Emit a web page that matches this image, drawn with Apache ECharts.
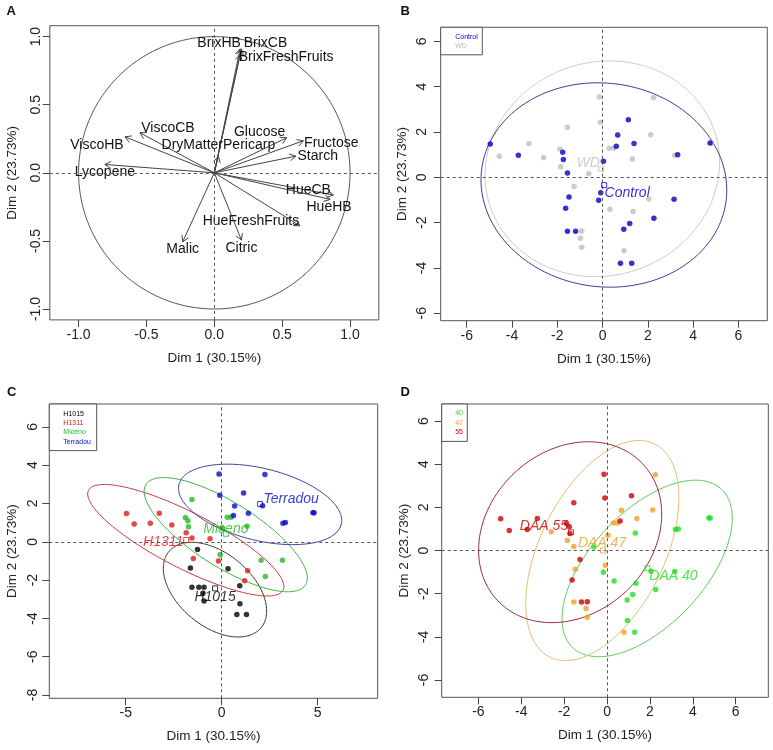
<!DOCTYPE html>
<html><head><meta charset="utf-8">
<script src="https://cdn.jsdelivr.net/npm/echarts@6/dist/echarts.min.js"></script>
<style>html,body{margin:0;padding:0;background:#fff}#c{width:773px;height:750px}</style>
</head><body><div id="c"></div>
<script>
// ---------- Panel A: variables factor map ----------
const varNames = ['BrixHB','BrixCB','BrixFreshFruits','ViscoCB','ViscoHB','Lycopene','DryMatterPericarp','Glucose','Fructose','Starch','HueCB','HueHB','HueFreshFruits','Citric','Malic'];
const varDim1 = [0.19, 0.20, 0.19, -0.548, -0.658, -0.806, 0.03, 0.533, 0.656, 0.60, 0.877, 0.853, 0.631, 0.20, -0.233];
const varDim2 = [0.91, 0.91, 0.87, 0.294, 0.264, 0.061, 0.12, 0.257, 0.235, 0.122, -0.163, -0.195, -0.389, -0.494, -0.507];

// ---------- Individuals (panels B, C, D) ----------
const indDim1 = [-4.96,-3.72,-1.76,-1.73,-1.55,-1.48,-1.63,-1.55,-1.19,0.04,-0.08,-0.17,0.67,0.61,1.14,1.39,0.94,1.20,2.27,0.79,1.29,3.16,3.32,4.75,4.81,
                 -4.56,-3.25,-2.60,-1.89,-1.85,-1.55,-1.26,-0.61,-0.14,-0.10,0.29,0.49,1.32,2.13,2.25,3.19,2.05,0.33,1.35,-0.92,-0.98,-0.92,0.95];
const indDim2 = [1.47,0.97,1.10,0.79,0.19,-0.87,-1.37,-2.38,-2.38,0.71,-0.68,-1.01,1.87,1.37,2.54,1.49,-2.29,-2.04,-1.81,-3.79,-3.79,-0.97,1.00,1.51,1.51,
                 0.93,1.49,0.87,1.25,0.47,2.21,-0.41,0.16,3.54,2.43,1.28,1.28,0.81,1.88,3.51,0.97,-0.96,-1.41,-1.51,-2.37,-2.69,-3.09,-3.24];
const indTreatment = ['Control','Control','Control','Control','Control','Control','Control','Control','Control','Control','Control','Control','Control','Control','Control','Control','Control','Control','Control','Control','Control','Control','Control','Control','WD',
                      'WD','WD','WD','WD','WD','WD','WD','WD','WD','WD','WD','WD','WD','WD','WD','WD','WD','WD','WD','WD','WD','WD','WD'];
const indGenotype = ['H1311','H1311','Miceno','Miceno','H1311','H1311','H1015','H1015','H1015','Miceno','Miceno','H1311','Terradou','Terradou','Terradou','Terradou','H1015','H1311','Miceno','H1015','H1015','Miceno','Terradou','Terradou','Terradou',
                     'H1311','H1311','H1311','Miceno','H1311','Miceno','H1015','H1311','Terradou','Terradou','Miceno','Miceno','Miceno','Terradou','Terradou','Terradou','Miceno','H1015','H1311','H1015','H1015','H1015','H1015'];
const indDAA = ['55','55','55','55','47','47','55','47','55','47','47','40','47','55','55','47','40','40','40','47','40','40','40','40','40',
                '55','55','47','55','47','55','55','40','55','55','47','47','40','47','47','40','40','40','40','55','47','47','40'];

// ---------- Groups and confidence ellipses ----------
const treatments = ['Control','WD'];
const trtEllCx = [0.06,-0.01], trtEllCy = [-0.34,0.375], trtEllHx = [5.43,5.18], trtEllHy = [4.51,4.76], trtEllR = [-0.05,0.06];
const genotypes = ['H1015','H1311','Miceno','Terradou'];
const genEllCx = [-0.35,-1.87,0.21,2.0], genEllCy = [-2.5,0.08,0.37,1.95], genEllHx = [2.69,5.11,4.25,4.25], genEllHy = [2.47,2.91,2.98,2.1], genEllR = [-0.45,-0.83,-0.76,-0.4];
const daaLevels = ['40','47','55'];
const daaEllCx = [1.87,-0.22,-1.72], daaEllCy = [-0.83,0.0,0.85], daaEllHx = [3.97,3.57,4.27], daaEllHy = [4.09,5.1,4.19], daaEllR = [0.57,0.48,0.2];

// tick values
const ticksA = [-1,-0.5,0,0.5,1];
const ticksBx = [-6,-4,-2,0,2,4,6], ticksBy = [-6,-4,-2,0,2,4,6];
const ticksCx = [-5,0,5], ticksCy = [-8,-6,-4,-2,0,2,4,6];
const ticksDx = [-6,-4,-2,0,2,4,6], ticksDy = [-6,-4,-2,0,2,4,6];
const xTitle = 'Dim 1 (30.15%)', yTitle = 'Dim 2 (23.73%)';

// ---------- styles / layout ----------
const FONT = "'Liberation Sans', Arial, Helvetica, sans-serif";
// label offsets (px) for panel A variable names
const varLabelOffset = [[-21,-6],[24,-6],[46,3],[28,-5],[-28,8],[0,8],[0,-11],[-27,-6],[28,2],[22,0],[-25,-5],[-1,8],[-49,-5],[0,8],[0,7]];
const trtColor = ['#0000C8','#BEBEBE'], trtEllColor = ['#3C3C96','#CDCDCD'], trtLabOff = [[23,8],[-13,-6]];
const genColor = ['#000000','#DD1A1A','#22BB22','#0A0ACC'], genEllColor = ['#333333','#C03A3A','#3DB43D','#3D3DA0'], genLabOff = [[0,9],[-23,2],[0,-5],[31,-5]];
const daaColor = ['#22DD22','#F0A028','#CC0000'], daaEllColor = ['#5ACD5A','#E6BE6E','#9A2A3A'], daaLabOff = [[26,8],[-1,-7],[-27,-6]];

const panels = [
  {left:49.8, top:25.7, width:329, height:294.2, xr:[-1.212,1.212], yr:[-1.08,1.08], xt:ticksA, yt:ticksA, fmt:v=>v.toFixed(1), yLabM:7, xNameGap:31, yNameGap:31},
  {left:440.7, top:27.3, width:326.6, height:293.4, xr:[-7.15,7.28], yr:[-6.33,6.62], xt:ticksBx, yt:ticksBy, fmt:v=>String(v), yLabM:12, xNameGap:32, yNameGap:31},
  {left:49.3, top:404, width:328.4, height:294.3, xr:[-8.98,8.125], yr:[-8.17,7.19], xt:ticksCx, yt:ticksCy, fmt:v=>String(v), yLabM:9, xNameGap:31, yNameGap:30},
  {left:441.7, top:404, width:326.6, height:293.3, xr:[-7.71,7.52], yr:[-6.80,6.79], xt:ticksDx, yt:ticksDy, fmt:v=>String(v), yLabM:11, xNameGap:31, yNameGap:30}
];

const grids = [], xAxes = [], yAxes = [];
panels.forEach((p,i)=>{
  grids.push({left:p.left, top:p.top, width:p.width, height:p.height, show:true, borderColor:'#555', borderWidth:1, backgroundColor:'transparent', containLabel:false});
  xAxes.push({gridIndex:i, type:'value', min:p.xr[0], max:p.xr[1], position:'bottom', axisLine:{show:false, onZero:false}, splitLine:{show:false},
    axisTick:{show:true, customValues:p.xt, length:7, lineStyle:{color:'#444'}},
    axisLabel:{customValues:p.xt, formatter:p.fmt, fontSize:14, color:'#222', margin:8, fontFamily:FONT},
    name:xTitle, nameLocation:'middle', nameGap:p.xNameGap, nameTextStyle:{fontSize:13.5, color:'#222', fontFamily:FONT}});
  yAxes.push({gridIndex:i, type:'value', min:p.yr[0], max:p.yr[1], position:'left', axisLine:{show:false, onZero:false}, splitLine:{show:false},
    axisTick:{show:true, customValues:p.yt, length:7, lineStyle:{color:'#444'}},
    axisLabel:{customValues:p.yt, formatter:p.fmt, fontSize:14, color:'#222', margin:p.yLabM, rotate:90, fontFamily:FONT},
    name:yTitle, nameLocation:'middle', nameGap:p.yNameGap, nameRotate:90, nameTextStyle:{fontSize:13.5, color:'#222', fontFamily:FONT}});
});

const zeroLines = {silent:true, symbol:'none', animation:false, label:{show:false},
  lineStyle:{type:[3,3], color:'#555', width:1}, data:[{xAxis:0},{yAxis:0}]};

const series = [];

// Panel A: circle
series.push({type:'custom', xAxisIndex:0, yAxisIndex:0, data:[[0,0,1]], silent:true, z:2,
  markLine: zeroLines,
  renderItem:(params, api)=>{
    const pts = [];
    for (let k=0;k<=240;k++){ const t=k/240*2*Math.PI; pts.push(api.coord([api.value(2)*Math.cos(t), api.value(2)*Math.sin(t)])); }
    return {type:'polyline', shape:{points:pts}, style:{stroke:'#555', fill:null, lineWidth:1}};
  }});
// Panel A: arrows + labels
series.push({type:'custom', xAxisIndex:0, yAxisIndex:0, silent:true, z:3,
  data: varNames.map((n,i)=>[varDim1[i], varDim2[i], i]),
  renderItem:(params, api)=>{
    const o = api.coord([0,0]);
    const p = api.coord([api.value(0), api.value(1)]);
    const idx = api.value(2);
    const ang = Math.atan2(p[1]-o[1], p[0]-o[0]);
    const L = 7, a = Math.PI/6;
    const h1 = [p[0]-L*Math.cos(ang-a), p[1]-L*Math.sin(ang-a)];
    const h2 = [p[0]-L*Math.cos(ang+a), p[1]-L*Math.sin(ang+a)];
    const off = varLabelOffset[idx];
    return {type:'group', children:[
      {type:'line', shape:{x1:o[0],y1:o[1],x2:p[0],y2:p[1]}, style:{stroke:'#444', lineWidth:1}},
      {type:'polyline', shape:{points:[h1,p,h2]}, style:{stroke:'#444', fill:null, lineWidth:1}},
      {type:'text', x:p[0]+off[0], y:p[1]+off[1], style:{text:varNames[idx], fill:'#111', font:'14px '+FONT, align:'center', verticalAlign:'middle'}}
    ]};
  }});

function ellipseSeries(ax, cx, cy, hx, hy, r, colors){
  return {type:'custom', xAxisIndex:ax, yAxisIndex:ax, silent:true, z:2,
    data: cx.map((c,i)=>[c, cy[i], hx[i], hy[i], r[i], i]),
    renderItem:(params, api)=>{
      const X=api.value(0), Y=api.value(1), HX=api.value(2), HY=api.value(3), R=api.value(4);
      const s = Math.sqrt(1-R*R), pts=[];
      for (let k=0;k<=200;k++){ const t=k/200*2*Math.PI;
        pts.push(api.coord([X+HX*Math.cos(t), Y+HY*(R*Math.cos(t)+s*Math.sin(t))])); }
      return {type:'polyline', shape:{points:pts}, style:{stroke:colors[api.value(5)], fill:null, lineWidth:1}};
    }};
}

function groupPanel(ax, groups, key, colors, ellArgs, ellColors, labOff, labelOf){
  series.push(Object.assign(ellipseSeries(ax, ...ellArgs, ellColors), {markLine: zeroLines}));
  groups.forEach((g,gi)=>{
    const d = [];
    indDim1.forEach((x,i)=>{ if (key[i]===g) d.push([x, indDim2[i]]); });
    series.push({type:'scatter', xAxisIndex:ax, yAxisIndex:ax, data:d, symbol:'circle', symbolSize:5.5,
      itemStyle:{color:colors[gi]}, silent:true, z:4, animation:false});
  });
  groups.forEach((g,gi)=>{
    let sx=0, sy=0, n=0;
    indDim1.forEach((x,i)=>{ if (key[i]===g){ sx+=x; sy+=indDim2[i]; n++; } });
    series.push({type:'scatter', xAxisIndex:ax, yAxisIndex:ax, data:[[sx/n, sy/n]], symbol:'rect', symbolSize:5,
      itemStyle:{color:'rgba(0,0,0,0)', borderColor:colors[gi], borderWidth:1}, silent:true, z:5, animation:false,
      label:{show:true, position:'inside', offset:labOff[gi], formatter:()=>labelOf(g), color:colors[gi], fontSize:14, fontStyle:'italic', fontFamily:FONT}});
  });
}

// Panel B
groupPanel(1, ['WD','Control'], indTreatment, [trtColor[1], trtColor[0]],
  [[trtEllCx[1],trtEllCx[0]],[trtEllCy[1],trtEllCy[0]],[trtEllHx[1],trtEllHx[0]],[trtEllHy[1],trtEllHy[0]],[trtEllR[1],trtEllR[0]]],
  [trtEllColor[1], trtEllColor[0]], [trtLabOff[1], trtLabOff[0]], g=>g);
// Panel C
groupPanel(2, genotypes, indGenotype, genColor, [genEllCx,genEllCy,genEllHx,genEllHy,genEllR], genEllColor, genLabOff, g=>g);
// Panel D
groupPanel(3, daaLevels, indDAA, daaColor, [daaEllCx,daaEllCy,daaEllHx,daaEllHy,daaEllR], daaEllColor, daaLabOff, g=>'DAA '+g);

// ---------- graphic: panel letters, legends ----------
const graphic = [];
[['A',6.5,5],['B',400.5,5],['C',7,385.5],['D',400.5,385.5]].forEach(([t,x,y])=>{
  graphic.push({type:'text', left:x, top:y, style:{text:t, font:'bold 13px '+FONT, fill:'#111'}});
});
function legendBox(x, y, w, names, colors, rowH, textX, firstY){
  const h = firstY + rowH*(names.length-1) + 9;
  graphic.push({type:'rect', shape:{x:x, y:y, width:w, height:h}, style:{fill:'#fff', stroke:'#555', lineWidth:1}, z:10});
  names.forEach((n,i)=>{
    graphic.push({type:'text', x:x+textX, y:y+firstY+rowH*i, style:{text:n, fill:colors[i], font:'7px '+FONT, verticalAlign:'middle'}, z:11});
  });
}
legendBox(440.7, 27.3, 41.6, treatments, trtColor, 8.7, 14.5, 9.8);
legendBox(49.3, 404, 47.4, genotypes, genColor, 9.2, 14, 10);
legendBox(441.7, 404, 25.6, daaLevels, daaColor, 9.5, 13.5, 9.4);

const chart = echarts.init(document.getElementById('c'), null, {renderer:'canvas', width:773, height:750});
chart.setOption({animation:false, backgroundColor:'#fff', grid:grids, xAxis:xAxes, yAxis:yAxes, series:series, graphic:graphic});
</script></body></html>
